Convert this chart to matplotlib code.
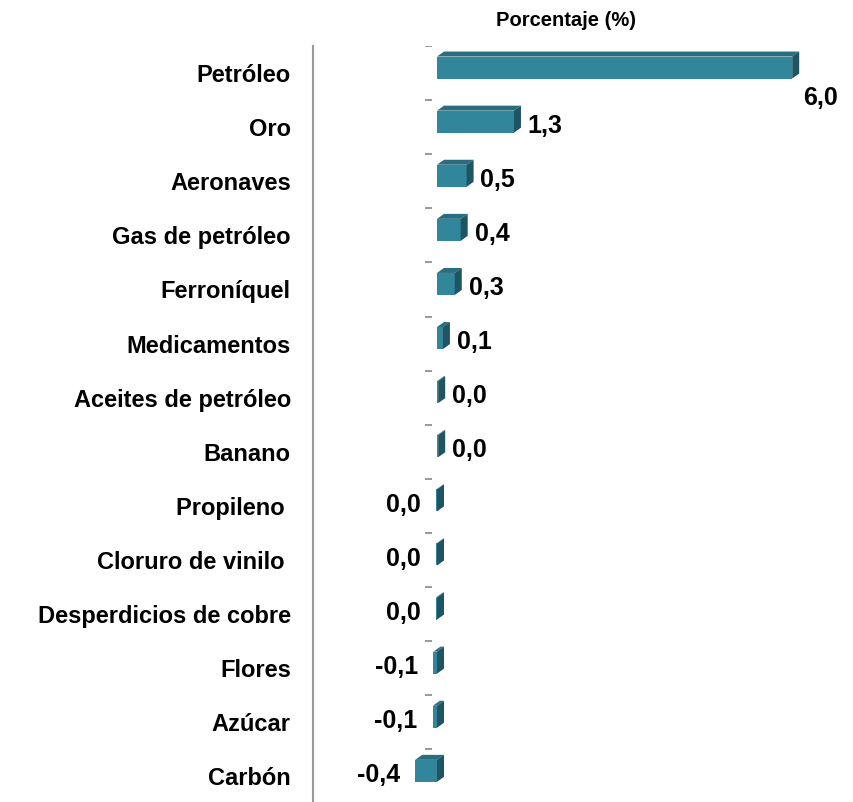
import numpy as np
import matplotlib.pyplot as plt
from matplotlib.patches import Polygon

plt.rcParams['font.family'] = ['Liberation Sans', 'DejaVu Sans']

# Data
categories = ['Petróleo', 'Oro', 'Aeronaves', 'Gas de petróleo', 'Ferroníquel',
              'Medicamentos', 'Aceites de petróleo', 'Banano', 'Propileno ',
              'Cloruro de vinilo ', 'Desperdicios de cobre', 'Flores', 'Azúcar', 'Carbón']
values = [6.0, 1.3, 0.5, 0.4, 0.3, 0.1, 0.02, 0.02, -0.01, -0.01, -0.02, -0.06, -0.07, -0.37]
labels = ['6,0', '1,3', '0,5', '0,4', '0,3', '0,1', '0,0', '0,0', '0,0', '0,0', '0,0',
          '-0,1', '-0,1', '-0,4']

front = '#31869b'
top = '#2a6d7e'
side = '#1f5462'

W, H = 854, 802
fig = plt.figure(figsize=(W / 100, H / 100), dpi=100)
# zero at x=437 px, 59.2 px per unit
px_x = 59.2
px_y = 54.1
x_left, x_right = 313, 854
y_top, y_bot = 46, 802
ax = fig.add_axes([x_left / W, 1 - y_bot / H, (x_right - x_left) / W, (y_bot - y_top) / H])
ax.set_xlim((x_left - 437) / px_x, (x_right - 437) / px_x)
ax.set_ylim((y_bot - y_top) / px_y - 0.5, -0.5)

n = len(categories)
ypos = np.arange(n)
h = 22 / px_y
dx = 7 / px_x
dy = 5 / px_y
yc = ypos - 5.5 / px_y

ax.barh(yc, values, height=h, color=front, edgecolor='none', zorder=3)
for i, v in enumerate(values):
    x0, x1 = min(0, v), max(0, v)
    yt, yb = yc[i] - h / 2, yc[i] + h / 2
    ax.add_patch(Polygon([(x0, yt), (x1, yt), (x1 + dx, yt - dy), (x0 + dx, yt - dy)],
                         closed=True, facecolor=top, edgecolor='none', zorder=3))
    ax.add_patch(Polygon([(x1, yt), (x1 + dx, yt - dy), (x1 + dx, yb - dy), (x1, yb)],
                         closed=True, facecolor=side, edgecolor='none', zorder=3))
    lab = labels[i]
    if lab.startswith('-') or v < 0:
        ax.annotate(lab, (x0, yc[i]), xytext=(-11, -3), textcoords='offset points',
                    ha='right', va='center', fontsize=18, fontweight='bold')
    elif i == 0:
        ax.annotate(lab, (x1, ypos[i]), xytext=(8, -18), textcoords='offset points',
                    ha='left', va='center', fontsize=18, fontweight='bold')
    else:
        ax.annotate(lab, (x1, yc[i]), xytext=(10, -3), textcoords='offset points',
                    ha='left', va='center', fontsize=18, fontweight='bold')

# small tick dashes at category boundaries
ax.hlines(ypos - 0.5, -12 / px_x, -5 / px_x, color='#888888', lw=1.2, zorder=2)

ax.set_yticks(ypos)
ax.set_yticklabels(categories, fontsize=17, fontweight='bold')
ax.tick_params(axis='y', length=0, pad=16)
ax.set_xticks([])
for s in ['top', 'right', 'bottom']:
    ax.spines[s].set_visible(False)
ax.spines['left'].set_color('#999999')
ax.spines['left'].set_linewidth(1.5)

fig.text(566 / W, 1 - 21 / H, 'Porcentaje (%)', ha='center', va='center',
         fontsize=14.5, fontweight='bold')

fig.savefig('out.png', dpi=100)
